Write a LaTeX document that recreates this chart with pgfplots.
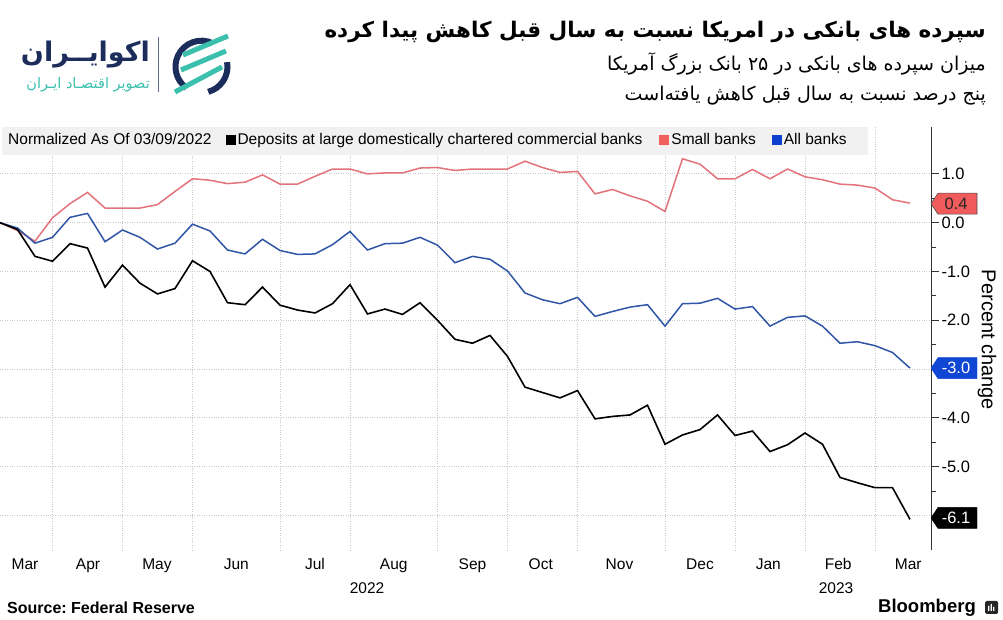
\documentclass[border=0pt]{standalone}
\usepackage{fontspec}
\setmainfont{Liberation Sans}
\newfontfamily\fa[Script=Arabic]{DejaVu Sans}
\TeXXeTstate=1
\usepackage{pgfplots}
\usepackage{pgfplotstable}
\pgfplotsset{compat=1.18}
\definecolor{redline}{HTML}{E2737A}
\definecolor{blueline}{HTML}{2F55A6}
\definecolor{redtag}{HTML}{F05C5C}
\definecolor{bluetag}{HTML}{1046D4}
\definecolor{legred}{HTML}{F26060}
\definecolor{legblue}{HTML}{0D3FCF}
\definecolor{gridc}{HTML}{C8C8C8}
\definecolor{legbg}{HTML}{F1F1F1}
\definecolor{navy}{HTML}{1C2D5C}
\definecolor{logoteal}{HTML}{3CC0AE}

\pgfplotstableread{
i black small all
0 0.00 0.00 0.00
1 -0.14 -0.16 -0.11
2 -0.69 -0.38 -0.42
3 -0.79 0.10 -0.30
4 -0.43 0.39 0.11
5 -0.52 0.62 0.19
6 -1.32 0.30 -0.39
7 -0.87 0.30 -0.15
8 -1.24 0.30 -0.30
9 -1.46 0.37 -0.54
10 -1.35 0.64 -0.42
11 -0.78 0.90 -0.03
12 -1.00 0.87 -0.17
13 -1.64 0.80 -0.56
14 -1.68 0.83 -0.64
15 -1.32 0.98 -0.34
16 -1.69 0.79 -0.57
17 -1.79 0.79 -0.65
18 -1.85 0.95 -0.64
19 -1.66 1.10 -0.45
20 -1.27 1.10 -0.18
21 -1.87 1.00 -0.56
22 -1.77 1.02 -0.43
23 -1.88 1.02 -0.42
24 -1.64 1.12 -0.30
25 -2.00 1.13 -0.46
26 -2.39 1.07 -0.82
27 -2.47 1.10 -0.69
28 -2.31 1.10 -0.75
29 -2.74 1.10 -0.99
30 -3.37 1.26 -1.44
31 -3.48 1.13 -1.58
32 -3.59 1.03 -1.66
33 -3.44 1.05 -1.53
34 -4.02 0.59 -1.92
35 -3.97 0.68 -1.82
36 -3.94 0.55 -1.73
37 -3.74 0.44 -1.68
38 -4.54 0.23 -2.12
39 -4.35 1.31 -1.66
40 -4.24 1.20 -1.65
41 -3.94 0.90 -1.55
42 -4.36 0.90 -1.77
43 -4.27 1.09 -1.72
44 -4.69 0.90 -2.12
45 -4.55 1.10 -1.94
46 -4.31 0.94 -1.91
47 -4.54 0.88 -2.12
48 -5.22 0.79 -2.47
49 -5.33 0.77 -2.44
50 -5.43 0.71 -2.52
51 -5.43 0.47 -2.66
52 -6.08 0.40 -2.98
}\deposits

\begin{document}
\begin{tikzpicture}[x=1pt,y=1pt]
\useasboundingbox (0,0) rectangle (1003,620);
\begin{axis}[
  at={(0pt,70pt)}, anchor=south west,
  scale only axis, width=931pt, height=423pt,
  xmin=0, xmax=53.2, ymin=-6.707, ymax=1.961,
  axis y line*=right, axis x line*=bottom,
  x axis line style={draw=none},
  y axis line style={black!80, line width=1pt},
  clip=false,
  xtick={3,7,11,16,20,25,29,33,38,42,46,50},
  xticklabels={},
  major x tick style={draw=none},
  extra x ticks={1.43,5.03,8.97,13.5,18,22.5,27,30.9,35.4,40,43.9,47.9,51.9},
  extra x tick labels={Mar,Apr,May,Jun,Jul,Aug,Sep,Oct,Nov,Dec,Jan,Feb,Mar},
  extra x tick style={grid=none, major tick length=0pt},
  x tick label style={font=\fontsize{15.5}{15.5}\selectfont, yshift=-5pt},
  xmajorgrids, ymajorgrids,
  grid style={gridc, dotted, line width=0.8pt},
  ytick={-6,-5,-4,-3,-2,-1,0,1},
  yticklabels={{},-5.0,-4.0,-3.0,-2.0,-1.0,0.0,1.0},
  minor y tick num=1,
  tick align=outside,
  major tick length=8pt, minor tick length=5pt,
  y tick style={black!80, line width=1pt},
  yticklabel pos=right,
  y tick label style={font=\fontsize{16.5}{16.5}\selectfont, anchor=west, xshift=-1pt},
]
\addplot[redline, line width=1.5pt] table[x=i, y=small] {\deposits};
\addplot[blueline, line width=1.5pt] table[x=i, y=all] {\deposits};
\addplot[black, line width=1.6pt] table[x=i, y=black] {\deposits};
% value tags
\draw[fill=redtag, draw=black!70, line width=0.6pt] (axis cs:53.2,0.39) -- ++(7pt,10.5pt) -- ++(39pt,0pt) -- ++(0pt,-21pt) -- ++(-39pt,0pt) -- cycle;
\node[font=\fontsize{16.5}{16.5}\selectfont, text=black!85] at ([xshift=25pt]axis cs:53.2,0.39) {0.4};
\draw[fill=bluetag, draw=bluetag] (axis cs:53.2,-2.98) -- ++(7pt,10.5pt) -- ++(39pt,0pt) -- ++(0pt,-21pt) -- ++(-39pt,0pt) -- cycle;
\node[font=\fontsize{16.5}{16.5}\selectfont, text=white] at ([xshift=25pt]axis cs:53.2,-2.98) {-3.0};
\draw[fill=black, draw=black] (axis cs:53.2,-6.05) -- ++(7pt,10.5pt) -- ++(39pt,0pt) -- ++(0pt,-21pt) -- ++(-39pt,0pt) -- cycle;
\node[font=\fontsize{16.5}{16.5}\selectfont, text=white] at ([xshift=25pt]axis cs:53.2,-6.05) {-6.1};
\end{axis}
% legend box
\fill[legbg] (2,465) rectangle (868,493);
\node[anchor=west, font=\fontsize{15.5}{15.5}\selectfont, inner sep=0pt] at (8,479) {Normalized As Of 03/09/2022\hspace{14pt}\textcolor{black}{\rule{10pt}{10pt}}\hspace{2pt}Deposits at large domestically chartered commercial banks\hspace{17pt}\textcolor{legred}{\rule{10pt}{10pt}}\hspace{2pt}Small banks\hspace{16pt}\textcolor{legblue}{\rule{10pt}{10pt}}\hspace{2pt}All banks};
% year labels
\node[font=\fontsize{15.5}{15.5}\selectfont] at (367,32) {2022};
\node[font=\fontsize{15.5}{15.5}\selectfont] at (836,32) {2023};
% y label
\node[rotate=-90, font=\fontsize{20}{20}\selectfont] at (987,280) {Percent change};
% titles
\node[anchor=east, inner sep=0pt] at (986,588) {\fa\bfseries\fontsize{21.5}{21.5}\selectfont\beginR سپرده های بانکی در امریکا نسبت به سال قبل کاهش پیدا کرده\endR};
\node[anchor=east, inner sep=0pt] at (986,556) {\fa\fontsize{19}{19}\selectfont\beginR میزان سپرده های بانکی در ۲۵ بانک بزرگ آمریکا\endR};
\node[anchor=east, inner sep=0pt] at (986,524) {\fa\fontsize{19}{19}\selectfont\beginR پنج درصد نسبت به سال قبل کاهش یافته‌است\endR};
% logo
\draw[navy, line width=6pt] (201.5,553.3) ++(65:26) arc[start angle=65, end angle=235, radius=26];
\draw[navy, line width=6pt] (201.5,553.3) ++(285:26) arc[start angle=285, end angle=370, radius=26];
\draw[logoteal, line width=5pt] (183,565) -- (228,584);
\draw[logoteal, line width=5pt] (181,550) -- (226,569);
\draw[logoteal, line width=5pt] (175,528) -- (222,553);
\draw[navy!70, line width=0.8pt] (158,528) -- (158,583);
\node[anchor=east, inner sep=0pt, text=navy] at (150,565) {\fa\bfseries\fontsize{27}{27}\selectfont\beginR اکوایــران\endR};
\node[anchor=east, inner sep=0pt, text=logoteal] at (150,535) {\fa\fontsize{14.5}{14.5}\selectfont\beginR تصویر اقتصـاد ایـران\endR};
% footer
\node[anchor=west, inner sep=0pt, font=\bfseries\fontsize{16}{16}\selectfont] at (7,12) {Source:\ Federal Reserve};
\node[anchor=east, inner sep=0pt, font=\bfseries\fontsize{18.5}{18.5}\selectfont] at (976,12) {Bloomberg};
\fill[black!85, rounded corners=1.5pt] (985,6) rectangle (998,19);
\fill[white] (988,9) rectangle (989.3,14) (990.5,9) rectangle (991.8,16) (993,9) rectangle (994.3,13);
\end{tikzpicture}
\end{document}
